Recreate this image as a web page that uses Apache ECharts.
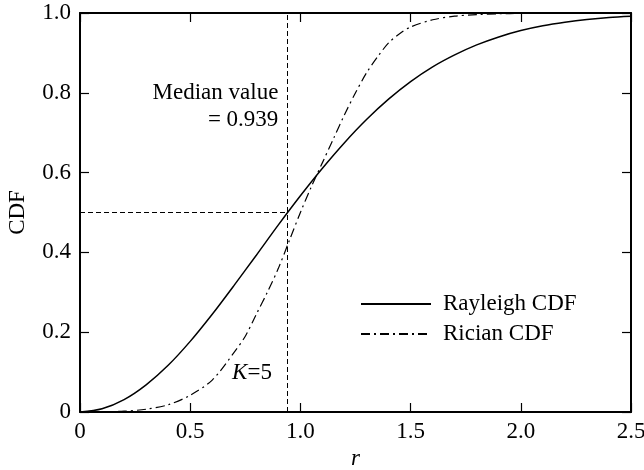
<!DOCTYPE html>
<html lang="en">
  <head>
    <meta charset="UTF-8" />
    <title>Rayleigh vs Rician CDF</title>
    <script src="https://cdn.jsdelivr.net/npm/echarts@6/dist/echarts.min.js"></script>
    <style>
      body { margin: 0; background: #fff; }
      #main { width: 644px; height: 470px; }
    </style>
  </head>
  <body>
    <div id="main"></div>
    <script>
      // values
      const rayleighR = [0, 0.1, 0.2, 0.3, 0.4, 0.5, 0.6, 0.7, 0.8, 0.9, 1.0, 1.1, 1.2, 1.3, 1.4, 1.5, 1.6, 1.7, 1.8, 1.9, 2.0, 2.1, 2.2, 2.3, 2.4, 2.5];
      const rayleighCdf = [0, 0.008, 0.031, 0.068, 0.117, 0.177, 0.245, 0.318, 0.393, 0.469, 0.542, 0.611, 0.675, 0.733, 0.784, 0.828, 0.865, 0.895, 0.92, 0.94, 0.956, 0.968, 0.977, 0.984, 0.989, 0.992];
      const ricianR = [0, 0.1, 0.2, 0.3, 0.4, 0.5, 0.6, 0.7, 0.75, 0.8, 0.85, 0.9, 0.95, 1.0, 1.05, 1.1, 1.15, 1.2, 1.25, 1.3, 1.35, 1.4, 1.45, 1.5, 1.6, 1.7, 1.8, 1.9, 2.0, 2.2, 2.5];
      const ricianCdf = [0, 0.0005, 0.002, 0.007, 0.018, 0.042, 0.08, 0.15, 0.19, 0.245, 0.3, 0.36, 0.43, 0.5, 0.565, 0.625, 0.685, 0.745, 0.8, 0.85, 0.89, 0.925, 0.948, 0.965, 0.983, 0.992, 0.996, 0.998, 0.999, 1.0, 1.0];
      const medianR = 0.939;
      const medianCdf = 0.5;

      const font = 'Liberation Serif';
      const fs = 23;
      const pairs = (xs, ys) => xs.map((x, i) => [x, ys[i]]);
      const tickFmt = (v) => (v === 0 ? '0' : v.toFixed(1));

      const chart = echarts.init(document.getElementById('main'));

      const xBase = { type: 'value', min: 0, max: 2.5, interval: 0.5, splitLine: { show: false } };
      const yBase = { type: 'value', min: 0, max: 1, interval: 0.2, splitLine: { show: false } };
      const frameLine = { show: true, onZero: false, lineStyle: { color: '#000', width: 2 } };
      const inTick = { show: true, inside: true, length: 9, lineStyle: { color: '#000', width: 1.2 } };

      const option = {
        animation: false,
        backgroundColor: '#fff',
        grid: { left: 80, right: 13, top: 13, bottom: 58, outerBoundsMode: 'none', containLabel: false },
        xAxis: [
          Object.assign({}, xBase, {
            position: 'bottom',
            name: 'r',
            nameLocation: 'middle',
            nameGap: 32,
            nameTextStyle: { fontFamily: font, fontSize: fs, fontStyle: 'italic', color: '#000' },
            axisLine: frameLine,
            axisTick: inTick,
            axisLabel: { fontFamily: font, fontSize: fs, color: '#000', margin: 8, formatter: tickFmt }
          }),
          Object.assign({}, xBase, {
            position: 'top',
            axisLine: frameLine,
            axisTick: inTick,
            axisLabel: { show: false }
          })
        ],
        yAxis: [
          Object.assign({}, yBase, {
            position: 'left',
            name: 'CDF',
            nameLocation: 'middle',
            nameGap: 51,
            nameTextStyle: { fontFamily: font, fontSize: fs, color: '#000' },
            axisLine: frameLine,
            axisTick: inTick,
            axisLabel: { fontFamily: font, fontSize: fs, color: '#000', margin: 9, formatter: tickFmt }
          }),
          Object.assign({}, yBase, {
            position: 'right',
            axisLine: frameLine,
            axisTick: inTick,
            axisLabel: { show: false }
          })
        ],
        legend: {
          orient: 'vertical',
          left: 355,
          top: 286,
          itemWidth: 70,
          itemHeight: 14,
          itemGap: 4,
          itemStyle: { opacity: 0 },
          textStyle: { fontFamily: font, fontSize: fs, lineHeight: 26, color: '#000', padding: [0, 0, 0, 7] },
          data: ['Rayleigh CDF', 'Rician CDF']
        },
        series: [
          {
            name: 'Rayleigh CDF',
            type: 'line',
            symbol: 'none',
            smooth: 0.3,
            data: pairs(rayleighR, rayleighCdf),
            lineStyle: { color: '#000', width: 1.5 },
            itemStyle: { color: '#000' },
            markLine: {
              silent: true,
              symbol: 'none',
              label: { show: false },
              lineStyle: { color: '#000', width: 1, type: [5, 3] },
              data: [
                [{ coord: [medianR, 0] }, { coord: [medianR, 1] }],
                [{ coord: [0, medianCdf] }, { coord: [medianR, medianCdf] }]
              ]
            },
            markPoint: {
              silent: true,
              symbol: 'circle',
              symbolSize: 0,
              data: [
                {
                  coord: [0.9, 0.765],
                  label: {
                    show: true,
                    position: 'inside',
                    align: 'right',
                    verticalAlign: 'middle',
                    fontFamily: font,
                    fontSize: fs,
                    lineHeight: 27,
                    color: '#000',
                    formatter: 'Median value\n= 0.939'
                  }
                },
                {
                  coord: [0.69, 0.097],
                  label: {
                    show: true,
                    position: 'inside',
                    align: 'left',
                    verticalAlign: 'middle',
                    color: '#000',
                    formatter: '{k|K}{n|=5}',
                    rich: {
                      k: { fontFamily: font, fontSize: fs, fontStyle: 'italic', color: '#000' },
                      n: { fontFamily: font, fontSize: fs, color: '#000' }
                    }
                  }
                }
              ]
            }
          },
          {
            name: 'Rician CDF',
            type: 'line',
            symbol: 'none',
            smooth: 0.3,
            data: pairs(ricianR, ricianCdf),
            lineStyle: { color: '#000', width: 1.2, type: [9, 4, 2, 4] },
            itemStyle: { color: '#000' }
          }
        ]
      };

      chart.setOption(option);
    </script>
  </body>
</html>
